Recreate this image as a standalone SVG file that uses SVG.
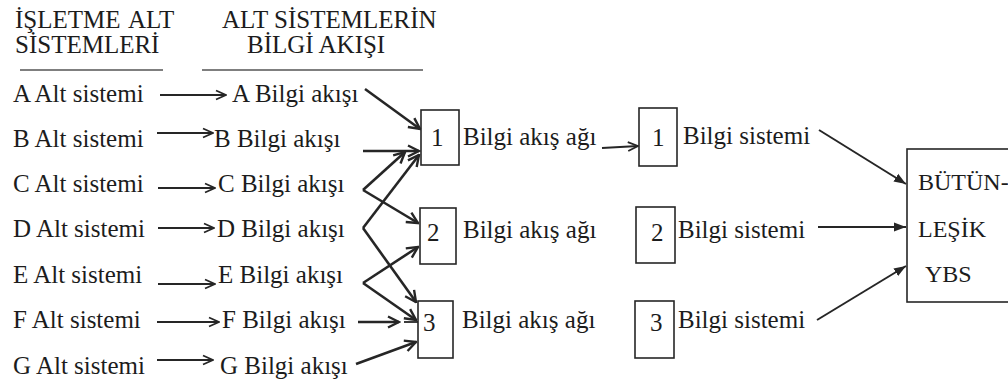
<svg xmlns="http://www.w3.org/2000/svg" width="1008" height="385" viewBox="0 0 1008 385">
<defs>
<style>
text { font-family: "Liberation Serif", "Times New Roman", serif; font-size: 25px; fill: #1c1c1c; }
.big { font-size: 24px; }
.box { fill: none; stroke: #262626; stroke-width: 1.6; }
.rule { stroke: #555; stroke-width: 1.4; }
.c1 { fill: none; stroke: #262626; stroke-width: 1.8; marker-end: url(#open); }
.c2 { fill: none; stroke: #262626; stroke-width: 2.6; marker-end: url(#openB); }
.c3 { fill: none; stroke: #262626; stroke-width: 2; marker-end: url(#solid); }
.seg { fill: none; stroke: #262626; stroke-width: 1.8; }
</style>
<marker id="open" markerUnits="userSpaceOnUse" viewBox="0 0 12 12" markerWidth="12" markerHeight="12" refX="11" refY="6" orient="auto">
<path d="M1,1.5 L11,6 L1,10.5" fill="none" stroke="#262626" stroke-width="1.8"/>
</marker>
<marker id="openB" markerUnits="userSpaceOnUse" viewBox="0 0 14 14" markerWidth="14" markerHeight="14" refX="12.5" refY="7" orient="auto">
<path d="M1.5,1.5 L12.5,7 L1.5,12.5" fill="none" stroke="#262626" stroke-width="2.4"/>
</marker>
<marker id="solid" markerUnits="userSpaceOnUse" viewBox="0 0 12 10" markerWidth="12" markerHeight="10" refX="12" refY="5" orient="auto">
<path d="M0,0.5 L12,5 L0,9.5 Z" fill="#262626"/>
</marker>
</defs>
<rect width="1008" height="385" fill="#ffffff"/>

<g id="headers">
<text x="15" y="28">İŞLETME<tspan x="128">ALT</tspan></text>
<text x="15" y="53">SİSTEMLERİ</text>
<text x="222" y="28">ALT SİSTEMLERİN</text>
<text x="247" y="53">BİLGİ AKIŞI</text>
<line class="rule" x1="20" y1="70" x2="163" y2="70"/>
<line class="rule" x1="202" y1="70" x2="423" y2="70"/>
</g>

<g id="alt-sistemleri">
<text id="alt-a" x="13" y="102">A Alt sistemi</text>
<text id="alt-b" x="13" y="147">B Alt sistemi</text>
<text id="alt-c" x="13" y="192">C Alt sistemi</text>
<text id="alt-d" x="13" y="237">D Alt sistemi</text>
<text id="alt-e" x="13" y="283">E Alt sistemi</text>
<text id="alt-f" x="13" y="328">F Alt sistemi</text>
<text id="alt-g" x="13" y="374">G Alt sistemi</text>
</g>

<g id="bilgi-akislari">
<text id="akis-a" x="232" y="102">A Bilgi akışı</text>
<text id="akis-b" x="214" y="147">B Bilgi akışı</text>
<text id="akis-c" x="218" y="192">C Bilgi akışı</text>
<text id="akis-d" x="217" y="237">D Bilgi akışı</text>
<text id="akis-e" x="218" y="283">E Bilgi akışı</text>
<text id="akis-f" x="222" y="328">F Bilgi akışı</text>
<text id="akis-g" x="220" y="374">G Bilgi akışı</text>
</g>

<g id="ag-1">
<rect class="box" x="421" y="110" width="38" height="55"/>
<text x="431" y="146">1</text>
<text x="463" y="145">Bilgi akış ağı</text>
</g>
<g id="ag-2">
<rect class="box" x="420" y="208" width="36" height="56"/>
<text x="427" y="241">2</text>
<text x="463" y="238">Bilgi akış ağı</text>
</g>
<g id="ag-3">
<rect class="box" x="418" y="301" width="35" height="57"/>
<text x="423" y="331">3</text>
<text x="462" y="328">Bilgi akış ağı</text>
</g>

<g id="sistem-1">
<rect class="box" x="639" y="108" width="38" height="58"/>
<text x="652" y="146">1</text>
<text x="683" y="144">Bilgi sistemi</text>
</g>
<g id="sistem-2">
<rect class="box" x="636" y="207" width="39" height="56"/>
<text x="651" y="241">2</text>
<text x="678" y="238">Bilgi sistemi</text>
</g>
<g id="sistem-3">
<rect class="box" x="635" y="301" width="39" height="57"/>
<text x="650" y="331">3</text>
<text x="678" y="328">Bilgi sistemi</text>
</g>

<g id="butunlesik-ybs">
<rect class="box" x="907" y="149" width="120" height="153"/>
<text class="big" x="918" y="190">BÜTÜN-</text>
<text class="big" x="918" y="237">LEŞİK</text>
<text class="big" x="925" y="282">YBS</text>
</g>

<g id="connectors">
<path class="c1" d="M160,95 H226"/>
<path class="c1" d="M157,133 H213"/>
<path class="c1" d="M158,188 H215"/>
<path class="c1" d="M158,228 H214"/>
<path class="c1" d="M158,284 H215"/>
<path class="c1" d="M157,322 H219"/>
<path class="c1" d="M157,360 H213"/>

<path class="c2" d="M365,89 L420,129"/>
<path class="c2" d="M363,151 L419,151"/>
<path class="c2" d="M363,190 L405,152"/>
<path class="c2" d="M363,190 L418,223"/>
<path class="c2" d="M363,228 L419,155"/>
<path class="c2" d="M363,228 L416,302"/>
<path class="c2" d="M363,283 L418,247"/>
<path class="c2" d="M363,283 L416,320"/>
<path class="c2" d="M358,322 L399,322"/>
<path class="seg" d="M404,322 H418"/>
<path class="c2" d="M356,364 L416,342"/>

<path class="c1" d="M602,148 L638,146"/>

<path class="c3" d="M819,130 L906,184"/>
<path class="c3" d="M818,227 L906,227"/>
<path class="c3" d="M817,320 L906,266"/>
</g>
</svg>
